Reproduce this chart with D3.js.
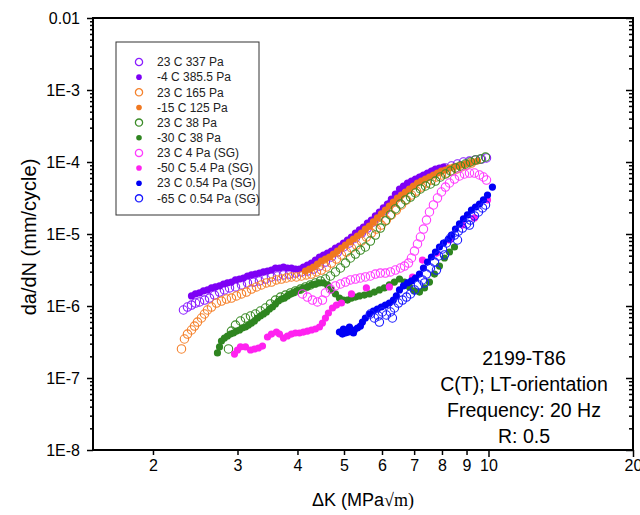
<!DOCTYPE html>
<html><head><meta charset="utf-8">
<script src="https://cdn.jsdelivr.net/npm/d3@7"></script>
<style>body{margin:0;background:#fff}svg{display:block}</style>
</head><body>
<svg id="c" width="640" height="515"></svg>
<script>
// ---------- data (ΔK in MPa√m, da/dN in mm/cycle) ----------
const seriesNames = ["23 C 337 Pa","-4 C 385.5 Pa","23 C 165 Pa","-15 C 125 Pa","23 C 38 Pa","-30 C 38 Pa","23 C 4 Pa (SG)","-50 C 5.4 Pa (SG)","23 C 0.54 Pa (SG)","-65 C 0.54 Pa (SG)"];
const seriesColors = ["#8A1EFF","#7D00F5","#F5822D","#F07820","#3C8C28","#2F8520","#FF3CFF","#FF22F0","#0000F5","#1A1AFF"];
const seriesFilled = [false,true,false,true,false,true,false,true,true,false];

const dK_23C337 = [2.315,2.360,2.406,2.452,2.500,2.561,2.623,2.686,2.752,2.818,2.887,2.971,3.058,3.147,3.239,3.333,3.431,3.531,3.634,3.740,3.849,3.961,4.077,4.196,4.318,4.445,4.574,4.708,4.845,4.987,5.133,5.282,5.436,5.594,5.756,5.925,6.098,6.276,6.459,6.651,6.845,7.045,7.250,7.463,7.679,7.904,8.135,8.373,8.617,8.868,9.127,9.394,9.668,9.904];
const rate_23C337 = [8.80e-7,9.68e-7,1.03e-6,1.10e-6,1.14e-6,1.21e-6,1.29e-6,1.42e-6,1.56e-6,1.67e-6,1.78e-6,1.84e-6,1.96e-6,2.09e-6,2.15e-6,2.23e-6,2.37e-6,2.53e-6,2.61e-6,2.70e-6,2.78e-6,2.87e-6,2.97e-6,3.06e-6,3.26e-6,3.59e-6,4.08e-6,4.79e-6,5.62e-6,6.60e-6,7.50e-6,8.80e-6,1.03e-5,1.21e-5,1.47e-5,1.78e-5,2.15e-5,2.70e-5,3.26e-5,3.95e-5,4.64e-5,5.44e-5,5.99e-5,6.60e-5,7.26e-5,7.74e-5,8.25e-5,8.80e-5,9.38e-5,1.00e-4,1.03e-4,1.07e-4,1.10e-4,1.14e-4];

const dK_m4C385 = [2.406,2.452,2.500,2.548,2.598,2.648,2.699,2.752,2.805,2.859,2.914,2.971,3.029,3.087,3.147,3.208,3.270,3.333,3.398,3.464,3.531,3.599,3.669,3.740,3.812,3.886,3.961,4.038,4.116,4.196,4.277,4.360,4.445,4.531,4.619,4.708,4.799,4.892,4.987,5.084,5.182,5.282,5.385,5.489,5.594,5.702,5.812,5.925,6.039,6.157,6.276,6.397,6.525,6.651,6.780,6.911,7.045,7.181,7.320,7.463,7.606,7.754,7.904,8.057];
const rate_m4C385 = [1.38e-6,1.47e-6,1.52e-6,1.62e-6,1.67e-6,1.78e-6,1.84e-6,1.90e-6,2.02e-6,2.09e-6,2.15e-6,2.30e-6,2.37e-6,2.45e-6,2.61e-6,2.70e-6,2.78e-6,2.87e-6,2.97e-6,3.06e-6,3.16e-6,3.37e-6,3.37e-6,3.48e-6,3.37e-6,3.37e-6,3.26e-6,3.26e-6,3.48e-6,3.71e-6,3.95e-6,4.35e-6,4.79e-6,5.11e-6,5.44e-6,5.80e-6,6.39e-6,6.81e-6,7.50e-6,8.25e-6,9.08e-6,1.03e-5,1.14e-5,1.25e-5,1.42e-5,1.56e-5,1.78e-5,2.02e-5,2.30e-5,2.61e-5,3.06e-5,3.59e-5,4.22e-5,4.64e-5,5.11e-5,5.44e-5,5.80e-5,6.19e-5,6.60e-5,7.03e-5,7.50e-5,7.99e-5,8.25e-5,8.52e-5];

const dK_23C165 = [2.293,2.326,2.360,2.406,2.441,2.476,2.524,2.561,2.598,2.648,2.712,2.778,2.845,2.914,2.985,3.058,3.132,3.208,3.286,3.365,3.447,3.531,3.616,3.704,3.794,3.886,3.980,4.077,4.176,4.277,4.381,4.487,4.596,4.708,4.822,4.939,5.059,5.182,5.307,5.436,5.567,5.702,5.840,5.982,6.127,6.276,6.428,6.588,6.747,6.911,7.078,7.250,7.427,7.606,7.791,7.980,8.174,8.373,8.576,8.784,8.997,9.215];
const rate_23C165 = [2.53e-7,3.48e-7,4.08e-7,4.64e-7,5.27e-7,5.99e-7,6.81e-7,7.74e-7,8.80e-7,9.68e-7,1.10e-6,1.17e-6,1.25e-6,1.29e-6,1.38e-6,1.47e-6,1.56e-6,1.72e-6,1.84e-6,1.96e-6,2.09e-6,2.15e-6,2.30e-6,2.37e-6,2.45e-6,2.53e-6,2.53e-6,2.61e-6,2.70e-6,2.78e-6,2.97e-6,3.16e-6,3.48e-6,3.95e-6,4.49e-6,5.11e-6,5.62e-6,6.39e-6,7.03e-6,7.99e-6,9.08e-6,1.03e-5,1.17e-5,1.33e-5,1.56e-5,1.84e-5,2.15e-5,2.53e-5,2.97e-5,3.48e-5,3.95e-5,4.49e-5,5.11e-5,5.62e-5,6.19e-5,6.60e-5,7.03e-5,7.50e-5,7.99e-5,8.52e-5,9.08e-5,9.68e-5];

const dK_m15C125 = [4.156,4.237,4.318,4.402,4.487,4.574,4.663,4.753,4.845,4.939,5.035,5.133,5.232,5.333,5.436,5.540,5.647,5.756,5.868,5.982,6.098,6.216,6.336,6.459,6.588,6.715,6.845,6.977,7.113,7.250,7.391,7.534,7.679,7.829,7.980,8.135,8.293,8.453,8.617,8.784,8.954,9.127,9.303,9.485];
const rate_m15C125 = [3.06e-6,3.26e-6,3.48e-6,3.83e-6,4.22e-6,4.49e-6,4.79e-6,5.27e-6,5.80e-6,6.39e-6,7.03e-6,7.74e-6,8.52e-6,9.38e-6,1.03e-5,1.17e-5,1.29e-5,1.47e-5,1.67e-5,1.90e-5,2.15e-5,2.45e-5,2.78e-5,3.16e-5,3.48e-5,3.83e-5,4.22e-5,4.64e-5,5.11e-5,5.44e-5,5.80e-5,6.19e-5,6.60e-5,7.03e-5,7.50e-5,7.74e-5,8.25e-5,8.52e-5,8.80e-5,9.08e-5,9.38e-5,9.68e-5,1.00e-4,1.03e-4];

const dK_23C38 = [2.873,2.914,2.971,3.043,3.117,3.193,3.270,3.349,3.431,3.514,3.599,3.687,3.776,3.868,3.961,4.058,4.156,4.257,4.360,4.466,4.574,4.685,4.799,4.916,5.035,5.157,5.282,5.410,5.540,5.675,5.812,5.953,6.098,6.246,6.397,6.556,6.715,6.878,7.045,7.215,7.391,7.570,7.754,7.942,8.135,8.333,8.535,8.742,8.954,9.171,9.394,9.622,9.857];
const rate_23C38 = [2.53e-7,4.49e-7,5.44e-7,6.19e-7,6.81e-7,7.26e-7,7.74e-7,8.52e-7,9.38e-7,1.07e-6,1.21e-6,1.33e-6,1.42e-6,1.52e-6,1.62e-6,1.72e-6,1.84e-6,1.96e-6,2.09e-6,2.23e-6,2.37e-6,2.61e-6,2.97e-6,3.37e-6,3.95e-6,4.64e-6,5.27e-6,5.99e-6,6.60e-6,7.99e-6,9.68e-6,1.21e-5,1.52e-5,1.84e-5,2.23e-5,2.61e-5,2.97e-5,3.26e-5,3.71e-5,4.22e-5,4.64e-5,4.95e-5,5.44e-5,6.19e-5,6.81e-5,7.50e-5,8.25e-5,8.80e-5,9.38e-5,1.00e-4,1.07e-4,1.10e-4,1.17e-4];

const dK_m30C38 = [2.725,2.752,2.778,2.818,2.859,2.901,2.942,2.985,3.029,3.072,3.117,3.162,3.208,3.254,3.302,3.349,3.398,3.447,3.497,3.548,3.599,3.651,3.704,3.758,3.812,3.868,3.923,3.980,4.038,4.116,4.196,4.277,4.360,4.445,4.531,4.619,4.708,4.799,4.892,4.987,5.084,5.182,5.282,5.385,5.514,5.647,5.785,5.925,6.069,6.216,6.367,6.525,6.683,6.845,7.011,7.181,7.356,7.534,7.717,7.904,8.096,8.293,8.494];
const rate_m30C38 = [2.23e-7,2.70e-7,3.26e-7,3.59e-7,3.83e-7,4.08e-7,4.22e-7,4.49e-7,4.64e-7,4.95e-7,5.11e-7,5.44e-7,5.80e-7,6.19e-7,6.81e-7,7.26e-7,7.74e-7,8.25e-7,9.08e-7,9.68e-7,1.07e-6,1.17e-6,1.25e-6,1.29e-6,1.38e-6,1.47e-6,1.52e-6,1.62e-6,1.67e-6,1.78e-6,1.84e-6,1.96e-6,2.02e-6,2.09e-6,2.09e-6,1.96e-6,1.67e-6,1.47e-6,1.29e-6,1.21e-6,1.21e-6,1.29e-6,1.33e-6,1.38e-6,1.42e-6,1.47e-6,1.56e-6,1.67e-6,1.78e-6,1.96e-6,2.15e-6,2.37e-6,2.15e-6,1.84e-6,1.62e-6,1.56e-6,1.78e-6,2.15e-6,2.78e-6,3.59e-6,4.64e-6,5.62e-6,6.60e-6];

const dK_23C4 = [4.097,4.196,4.298,4.402,4.509,4.574,4.685,4.799,4.916,5.035,5.157,5.282,5.410,5.540,5.675,5.812,5.953,6.098,6.246,6.397,6.556,6.683,6.812,6.911,7.011,7.113,7.215,7.320,7.427,7.534,7.679,7.829,7.980,8.135,8.293,8.494,8.700,8.911,9.127,9.349,9.576,9.761,9.904];
const rate_23C4 = [1.47e-6,1.33e-6,1.21e-6,1.14e-6,1.21e-6,1.52e-6,1.72e-6,1.90e-6,2.02e-6,2.15e-6,2.30e-6,2.37e-6,2.45e-6,2.53e-6,2.61e-6,2.78e-6,2.87e-6,2.87e-6,2.97e-6,3.16e-6,3.37e-6,3.59e-6,3.95e-6,4.64e-6,5.80e-6,7.26e-6,9.08e-6,1.17e-5,1.56e-5,2.02e-5,2.53e-5,3.16e-5,3.83e-5,4.49e-5,5.11e-5,5.80e-5,6.39e-5,6.81e-5,7.03e-5,7.03e-5,6.60e-5,6.19e-5,5.62e-5];

const dK_m50C5 = [2.957,3.000,3.043,3.117,3.193,3.254,3.317,3.382,3.464,3.531,3.616,3.669,3.740,3.812,3.886,3.961,4.038,4.116,4.196,4.277,4.360,4.445,4.509,4.574,4.640,4.731,4.822,4.939,5.182,5.567,6.216,6.944,7.285,7.791,8.293,8.826,9.349,9.952];
const rate_m50C5 = [2.15e-7,2.45e-7,2.70e-7,2.70e-7,2.45e-7,2.53e-7,2.61e-7,2.78e-7,3.71e-7,4.08e-7,4.35e-7,4.08e-7,3.59e-7,3.83e-7,4.08e-7,4.22e-7,4.22e-7,4.35e-7,4.49e-7,4.64e-7,4.79e-7,5.11e-7,5.80e-7,6.81e-7,7.99e-7,9.38e-7,1.03e-6,1.10e-6,1.47e-6,1.78e-6,1.84e-6,2.53e-6,4.35e-6,5.44e-6,8.25e-6,1.33e-5,1.67e-5,2.97e-5];

const dK_23C054 = [4.987,5.133,5.232,4.892,4.963,5.035,5.108,5.182,5.257,5.333,5.410,5.463,5.540,5.647,5.756,5.868,5.982,6.098,6.216,6.336,6.428,6.525,6.651,6.780,6.911,7.045,7.181,7.320,7.463,7.606,7.754,7.904,8.057,8.252,8.373,8.535,8.700,8.868,9.040,9.215,9.394,9.576,9.761,9.952,10.19];
const rate_23C054 = [4.79e-7,5.11e-7,4.22e-7,4.35e-7,4.08e-7,4.22e-7,4.35e-7,4.49e-7,4.64e-7,4.95e-7,5.27e-7,5.99e-7,6.81e-7,7.74e-7,8.52e-7,9.08e-7,9.68e-7,1.03e-6,1.10e-6,1.21e-6,1.38e-6,1.67e-6,1.90e-6,2.09e-6,2.23e-6,2.45e-6,2.78e-6,3.37e-6,4.08e-6,4.79e-6,5.62e-6,6.60e-6,7.50e-6,8.52e-6,9.68e-6,1.17e-5,1.38e-5,1.62e-5,1.84e-5,2.15e-5,2.37e-5,2.61e-5,2.97e-5,3.48e-5,4.49e-5];

const dK_m65C054 = [5.675,5.785,5.896,6.011,6.127,6.246,6.367,6.490,6.620,6.747,6.878,7.011,7.146,7.285,7.427,7.570,7.717,7.866,8.019,8.174,8.333,8.494,8.658,8.826,8.997,9.171,9.349,9.529,9.715,9.857,5.925,6.306,7.356,7.791,8.096,8.617,9.127];
const rate_m65C054 = [7.74e-7,6.81e-7,7.26e-7,8.25e-7,7.50e-7,8.25e-7,9.38e-7,1.10e-6,1.21e-6,1.33e-6,1.47e-6,1.67e-6,1.96e-6,2.30e-6,2.78e-6,3.37e-6,4.08e-6,4.95e-6,6.19e-6,7.50e-6,8.80e-6,9.68e-6,1.10e-5,1.21e-5,1.38e-5,1.56e-5,1.78e-5,2.02e-5,2.30e-5,2.53e-5,5.99e-7,6.81e-7,2.09e-6,3.16e-6,5.11e-6,8.25e-6,1.33e-5];

const seriesX = [dK_23C337,dK_m4C385,dK_23C165,dK_m15C125,dK_23C38,dK_m30C38,dK_23C4,dK_m50C5,dK_23C054,dK_m65C054];
const seriesY = [rate_23C337,rate_m4C385,rate_23C165,rate_m15C125,rate_23C38,rate_m30C38,rate_23C4,rate_m50C5,rate_23C054,rate_m65C054];

const yDecades = [1e-8,1e-7,1e-6,1e-5,1e-4,1e-3,1e-2];
const xTickValues = [2,3,4,5,6,7,8,9,10,20];
const xLongTicks = [10,20];
const annotationLines = ["2199-T86","C(T); LT-orientation","Frequency: 20 Hz","R: 0.5"];

// ---------- chart ----------
const FONT = "'Liberation Sans', Arial, Helvetica, sans-serif";
const svg = d3.select('#c');
const X0 = 93, X1 = 633, Y0 = 18, Y1 = 450;
const x = d3.scaleLog().domain([1.5, 20]).range([X0, X1]);
const y = d3.scaleLog().domain([1e-8, 1e-2]).range([Y1, Y0]);

const yMinor = [];
yDecades.slice(0, -1).forEach(d => { for (let m = 2; m <= 9; m++) yMinor.push(d * m); });

function styleAxis(g) {
  g.select('.domain').remove();
  g.selectAll('line').attr('stroke', '#000').attr('stroke-width', 1.5);
  g.selectAll('text').attr('font-family', FONT).attr('font-size', 16).attr('fill', '#000');
}
const fmtY = d => d === 1e-2 ? '0.01' : '1E' + Math.round(Math.log10(d));

// left axis
svg.append('g').attr('transform', `translate(${X0},0)`)
  .call(d3.axisLeft(y).tickValues(yDecades).tickSize(6).tickPadding(7).tickFormat(fmtY)).call(styleAxis);
svg.append('g').attr('transform', `translate(${X0},0)`)
  .call(d3.axisLeft(y).tickValues(yMinor).tickSize(3).tickFormat('')).call(styleAxis);
// right axis (ticks pointing inward)
svg.append('g').attr('transform', `translate(${X1},0)`)
  .call(d3.axisLeft(y).tickValues(yDecades).tickSize(7).tickFormat('')).call(styleAxis);
svg.append('g').attr('transform', `translate(${X1},0)`)
  .call(d3.axisLeft(y).tickValues(yMinor).tickSize(4).tickFormat('')).call(styleAxis);
// bottom axis
const gb = svg.append('g').attr('transform', `translate(0,${Y1})`)
  .call(d3.axisBottom(x).tickValues(xTickValues).tickSize(5).tickPadding(5).tickFormat(d => String(d))).call(styleAxis);
gb.selectAll('.tick').filter(d => xLongTicks.includes(d)).select('line').attr('y2', 7);

// frame
svg.append('rect').attr('x', X0).attr('y', Y0).attr('width', X1 - X0).attr('height', Y1 - Y0)
  .attr('fill', 'none').attr('stroke', '#000').attr('stroke-width', 2);

// data
seriesX.forEach((xs, i) => {
  const ys = seriesY[i];
  const pts = d3.range(Math.min(xs.length, ys.length)).map(k => [xs[k], ys[k]]);
  const g = svg.append('g');
  const c = g.selectAll('circle').data(pts).join('circle')
    .attr('cx', d => x(d[0])).attr('cy', d => y(d[1]));
  if (seriesFilled[i]) c.attr('r', 3.6).attr('fill', seriesColors[i]);
  else c.attr('r', 4.2).attr('fill', 'none').attr('stroke', seriesColors[i]).attr('stroke-width', 1.1);
});

// legend
const LX = 116, LY = 42;
svg.append('rect').attr('x', LX).attr('y', LY).attr('width', 143).attr('height', 173)
  .attr('fill', '#fff').attr('stroke', '#333').attr('stroke-width', 1);
const lg = svg.append('g').selectAll('g').data(seriesNames).join('g')
  .attr('transform', (d, i) => `translate(${LX + 23},${LY + 20 + i * 15.15})`);
lg.append('circle').attr('r', (d, i) => seriesFilled[i] ? 2.8 : 3.6)
  .attr('fill', (d, i) => seriesFilled[i] ? seriesColors[i] : 'none')
  .attr('stroke', (d, i) => seriesFilled[i] ? 'none' : seriesColors[i])
  .attr('stroke-width', 1.3);
lg.append('text').attr('x', 18).attr('dy', '0.35em').text(d => d)
  .attr('font-family', FONT).attr('font-size', 12).attr('fill', '#222');

// annotation
svg.append('g').selectAll('text').data(annotationLines).join('text')
  .attr('x', 524).attr('y', (d, i) => 365 + i * 26).attr('text-anchor', 'middle')
  .attr('font-family', FONT).attr('font-size', 19.5).attr('fill', '#000').text(d => d);

// axis titles
svg.append('text').attr('transform', `translate(36,${(Y0 + Y1) / 2 + 3}) rotate(-90)`)
  .attr('text-anchor', 'middle').attr('font-family', FONT).attr('font-size', 20).attr('fill', '#000')
  .text('da/dN (mm/cycle)');
const xt = svg.append('text').attr('x', (X0 + X1) / 2).attr('y', 506).attr('text-anchor', 'middle')
  .attr('font-family', FONT).attr('font-size', 18).attr('fill', '#000');
xt.append('tspan').text('ΔK (MPa');
xt.append('tspan').attr('font-family', "'Liberation Serif', 'Times New Roman', serif").text('√m)');
</script>
</body></html>
